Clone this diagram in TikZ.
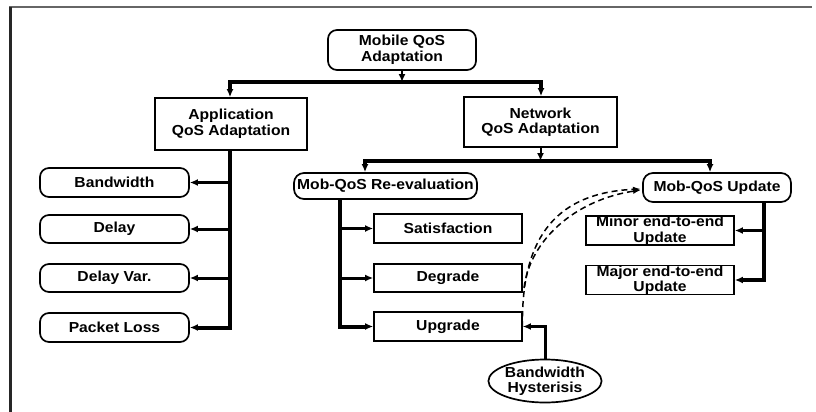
\documentclass[tikz,border=0pt]{standalone}
\usepackage{fontspec}
\setmainfont{Liberation Sans}[FakeStretch=1.08]
\usetikzlibrary{arrows.meta,shapes.geometric}
\begin{document}
\begin{tikzpicture}[x=1pt,y=-1pt,
  every node/.style={font=\fontsize{14.5}{15.5}\selectfont\bfseries, align=center, inner sep=0pt},
  rbox/.style={draw, line width=1.7pt, rounded corners=9pt, minimum height=28pt},
  sbox/.style={draw, line width=1.7pt, rectangle, minimum height=28pt},
  tip/.style={-{Latex[length=8pt,width=7pt]}},
  thinarrow/.style={tip, line width=2pt},
  busline/.style={line width=4pt},
  busarrow/.style={tip, line width=4pt},
  branch/.style={tip, line width=3pt},
  corner/.style={tip, line width=4pt},
  dasharrow/.style={-{Latex[length=8pt,width=5.5pt]}, line width=1.5pt, dash pattern=on 6pt off 4pt}
]
\useasboundingbox (0,0) rectangle (816,412);
% frame
\draw[line width=2pt, draw=black!60] (9,7.5) -- (812,7.5);
\draw[line width=3pt, draw=black!85] (10.5,7) -- (10.5,412);

% nodes
\node[rbox, minimum width=148pt, minimum height=40pt] (mobile) at (402,50) {Mobile QoS\\Adaptation};
\node[sbox, minimum width=152pt, minimum height=52pt] (app) at (231,124) {Application\\QoS Adaptation};
\node[sbox, minimum width=153pt, minimum height=50pt] (net) at (540.5,122) {Network\\QoS Adaptation};

\node[rbox, minimum width=149pt, minimum height=29pt] (bw) at (114.5,182.5) {Bandwidth};
\node[rbox, minimum width=149pt] (delay) at (114.5,229) {Delay};
\node[rbox, minimum width=149pt] (dvar) at (114.5,278) {Delay Var.};
\node[rbox, minimum width=149pt, minimum height=29pt] (ploss) at (114.5,327.5) {Packet Loss};

\node[rbox, minimum width=183pt, minimum height=26pt, rounded corners=10pt] (reeval) at (385.5,186) {Mob-QoS Re-evaluation};
\node[rbox, minimum width=148pt, minimum height=29pt, rounded corners=10pt] (update) at (717,187.5) {Mob-QoS Update};

\node[sbox, minimum width=148pt, minimum height=29pt] (sat) at (448,228.5) {Satisfaction};
\node[sbox, minimum width=148pt] (degr) at (448,278) {Degrade};
\node[sbox, minimum width=148pt, minimum height=29pt] (upg) at (448,326.5) {Upgrade};

\node[sbox, minimum width=148pt, minimum height=29pt] (minor) at (660,230.5) {Minor end-to-end\\Update};
\node[sbox, minimum width=148pt] (major) at (660,280) {Major end-to-end\\Update};

\node[ellipse, draw, line width=1.7pt, minimum width=107pt, minimum height=43pt] (hyst) at (545,381) {Bandwidth\\Hysterisis};

% junction coordinates
\coordinate (j1) at (402,82);
\coordinate (a1) at (230,82);
\coordinate (n1) at (541,82);
\coordinate (j2) at (540.5,161);
\coordinate (r1) at (365,161);
\coordinate (u1) at (710,161);
\coordinate (av) at (230,150);
\coordinate (rv) at (340,199);
\coordinate (uv) at (764,201.5);

% top level
\draw[thinarrow] (mobile.south) -- (j1);
\draw[busline] ([xshift=-2pt]a1) -- ([xshift=2pt]n1);
\draw[busarrow] (a1) -- (a1 |- app.north);
\draw[busarrow] (n1) -- (n1 |- net.north);

% application branches
\draw[corner] (av) -- (av |- ploss.east) -- (ploss.east);
\draw[branch] (av |- bw.east) -- (bw.east);
\draw[branch] (av |- delay.east) -- (delay.east);
\draw[branch] (av |- dvar.east) -- (dvar.east);

% network level
\draw[thinarrow] (net.south) -- (j2);
\draw[busline] ([xshift=-2pt]r1) -- ([xshift=2pt]u1);
\draw[busarrow] (r1) -- (r1 |- reeval.north);
\draw[busarrow] (u1) -- (u1 |- update.north);

% re-evaluation branches
\draw[corner] (rv) -- (rv |- upg.west) -- (upg.west);
\draw[branch] (rv |- sat.west) -- (sat.west);
\draw[branch] (rv |- degr.west) -- (degr.west);

% update branches
\draw[corner] (uv) -- (uv |- major.east) -- (major.east);
\draw[branch] (uv |- minor.east) -- (minor.east);

% hysteresis
\draw[branch] (hyst.north) -- (hyst.north |- upg.east) -- (upg.east);

% dashed curves
\coordinate (ua) at (641,189);
\coordinate (ub) at (641,190);
\coordinate (sa) at (522.5,327);
\coordinate (sb) at (524,288);
\draw[dasharrow] (sa) .. controls (521,245) and (550,193) .. (ua);
\draw[dasharrow] (sb) .. controls (530,240) and (575,200) .. (ub);
\end{tikzpicture}
\end{document}
